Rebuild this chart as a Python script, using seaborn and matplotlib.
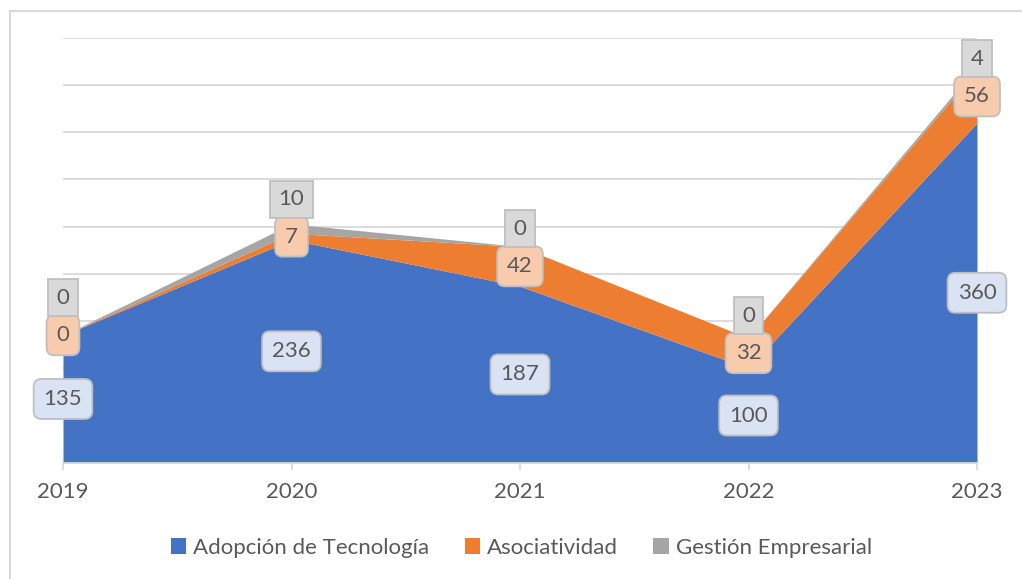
import matplotlib
matplotlib.use("Agg")
import matplotlib.pyplot as plt
from matplotlib.patches import Patch, Rectangle
import numpy as np
import seaborn as sns

# data
years = ["2019", "2020", "2021", "2022", "2023"]
adopcion = [135, 236, 187, 100, 360]
asociatividad = [0, 7, 42, 32, 56]
gestion = [0, 10, 0, 0, 4]
series_names = ["Adopción de Tecnología", "Asociatividad", "Gestión Empresarial"]

colors = ["#4472C4", "#ED7D31", "#A5A5A5"]
label_fill = ["#DAE3F3", "#F8CBAD", "#D9D9D9"]
text_col = "#595959"
grid_col = "#D9D9D9"

sns.set_theme(style="white")
plt.rcParams['font.family'] = ['Lato', 'DejaVu Sans']
fs = 16

fig = plt.figure(figsize=(10.22, 5.79), dpi=100)
ax = fig.add_axes([63 / 1022, 116.3 / 579, 914 / 1022, 424.8 / 579])

x = np.arange(len(years))
ax.stackplot(x, adopcion, asociatividad, gestion, colors=colors, linewidth=0)

ax.set_xlim(0, len(years) - 1)
ax.set_ylim(0, 450)
ax.set_yticks(np.arange(50, 451, 50))
ax.yaxis.grid(True, color=grid_col, linewidth=1.3)
ax.set_axisbelow(True)
ax.tick_params(axis="y", left=False, labelleft=False)
ax.set_xticks(x)
ax.set_xticklabels(years)
ax.tick_params(axis="x", bottom=True, length=5, width=1.3, color=grid_col,
               pad=9, labelsize=fs, labelcolor=text_col)
for side in ["top", "right", "left"]:
    ax.spines[side].set_visible(False)
ax.spines["bottom"].set_color(grid_col)
ax.spines["bottom"].set_linewidth(1.3)

# data labels
base = np.zeros(len(years))
vals = [adopcion, asociatividad, gestion]
for k in range(2):
    v = np.array(vals[k])
    mids = base + v / 2
    for i in range(len(years)):
        ax.annotate(str(v[i]), (x[i], mids[i]), ha="center", va="center",
                    fontsize=fs, color=text_col, annotation_clip=False,
                    bbox=dict(boxstyle="round,pad=0.45,rounding_size=0.35",
                              fc=label_fill[k], ec="#BFBFBF", lw=1.3))
    if k == 1:
        orange_mid = mids
    base = base + v
for i in range(len(years)):
    ax.annotate(str(gestion[i]), (x[i], orange_mid[i]), xytext=(0, 27),
                textcoords="offset points", ha="center", va="center",
                fontsize=fs, color=text_col, annotation_clip=False,
                bbox=dict(boxstyle="square,pad=0.38", fc=label_fill[2],
                          ec="#BFBFBF", lw=1.3))

handles = [Patch(facecolor=c, edgecolor="none") for c in colors]
fig.legend(handles, series_names, loc="center", bbox_to_anchor=(0.51, 31 / 579),
           ncol=3, frameon=False, fontsize=fs, labelcolor=text_col,
           handlelength=0.7, handleheight=0.7, handletextpad=0.3,
           columnspacing=1.6)

# chart frame
fig.patches.append(Rectangle((9.5 / 1022, -0.05), 1.1, (579 - 10.5) / 579 + 0.05,
                             transform=fig.transFigure, fill=False,
                             ec=grid_col, lw=1.5))

fig.savefig("out.png", dpi=100)
